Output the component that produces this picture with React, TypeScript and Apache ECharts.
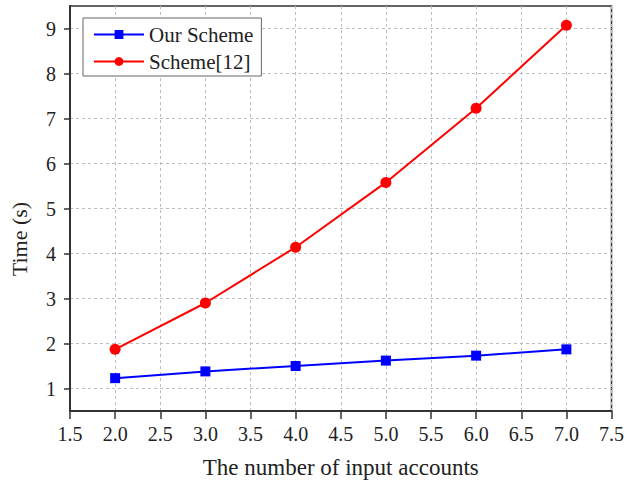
import React, { useEffect, useRef } from "react";
import * as echarts from "echarts";

const xValues = [2.0, 3.0, 4.0, 5.0, 6.0, 7.0];
const ourScheme = [1.23, 1.38, 1.5, 1.62, 1.73, 1.87];
const scheme12 = [1.87, 2.9, 4.14, 5.58, 7.23, 9.07];
const yTicks = [1, 2, 3, 4, 5, 6, 7, 8, 9];
const seriesNames = ["Our Scheme", "Scheme[12]"];

const FONT = '"Times New Roman", "Liberation Serif", serif';

export default function App() {
  const ref = useRef<HTMLDivElement>(null);
  useEffect(() => {
    if (!ref.current) return;
    const chart = echarts.init(ref.current, null, { renderer: "svg" });
    const gridLine = { show: true, lineStyle: { color: "#bdbdbd", width: 1, type: [3, 3] as any } };
    chart.setOption({
      animation: false,
      backgroundColor: "#ffffff",
      textStyle: { fontFamily: FONT, color: "#222" },
      grid: {
        left: 65, right: 15, top: 6, bottom: 75,
        show: true, borderColor: "#333", borderWidth: 1.5, backgroundColor: "transparent",
      },
      legend: {
        left: 83, top: 18,
        orient: "vertical",
        backgroundColor: "#fff",
        borderColor: "#666", borderWidth: 1,
        padding: [6, 8, 4, 10],
        itemWidth: 50, itemHeight: 11, itemGap: 6,
        textStyle: { fontFamily: FONT, fontSize: 21, color: "#222" },
        data: seriesNames,
      },
      xAxis: {
        type: "value",
        min: 1.5, max: 7.5, interval: 0.5,
        name: "The number of input accounts",
        nameLocation: "middle",
        nameGap: 45,
        nameTextStyle: { fontFamily: FONT, fontSize: 23, color: "#222" },
        axisLine: { show: true, onZero: false, lineStyle: { color: "#333", width: 2 } },
        axisTick: { show: true, inside: false, length: 8, lineStyle: { color: "#333", width: 1.5 } },
        axisLabel: {
          fontFamily: FONT, fontSize: 20, color: "#222", margin: 13,
          formatter: (v: number) => v.toFixed(1),
        },
        splitLine: gridLine,
      },
      yAxis: {
        type: "value",
        min: 0.5, max: 9.5,
        name: "Time (s)",
        nameLocation: "middle",
        nameGap: 40,
        nameTextStyle: { fontFamily: FONT, fontSize: 22, color: "#222", padding: [0, 61, 0, 0] },
        axisLine: { show: true, lineStyle: { color: "#333", width: 2 } },
        axisTick: { show: true, inside: false, length: 6, customValues: yTicks, lineStyle: { color: "#333", width: 1.5 } },
        axisLabel: {
          fontFamily: FONT, fontSize: 20, color: "#222", margin: 14,
          customValues: yTicks,
        },
        splitLine: gridLine,
      },
      series: [
        {
          name: seriesNames[0],
          type: "line",
          data: xValues.map((x, i) => [x, ourScheme[i]]),
          symbol: "rect",
          symbolSize: 10,
          itemStyle: { color: "#0000ff" },
          lineStyle: { color: "#0000ff", width: 2 },
        },
        {
          name: seriesNames[1],
          type: "line",
          data: xValues.map((x, i) => [x, scheme12[i]]),
          symbol: "circle",
          symbolSize: 11,
          itemStyle: { color: "#ff0000" },
          lineStyle: { color: "#ff0000", width: 2 },
        },
      ],
    });
    return () => chart.dispose();
  }, []);
  return (
    <div
      ref={ref}
      style={{ position: "fixed", left: 0, top: 0, width: 627, height: 486, background: "#fff" }}
    />
  );
}
